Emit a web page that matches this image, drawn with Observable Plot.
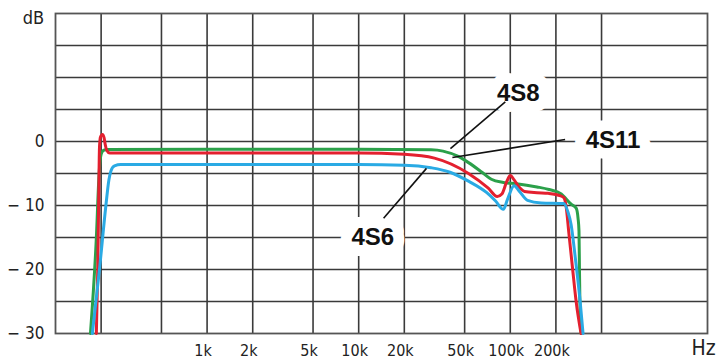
<!DOCTYPE html>
<html>
<head>
<meta charset="utf-8">
<script src="https://cdn.jsdelivr.net/npm/d3@7"></script>
<script src="https://cdn.jsdelivr.net/npm/@observablehq/plot@0.6"></script>
<style>
  html, body { margin: 0; padding: 0; background: #fff; }
  #chart svg { display: block; }
</style>
</head>
<body>
<div id="chart"></div>
<script>
// ---- data ----
const s8Freq = [170, 186, 193, 196, 200, 207, 220, 1000, 10000, 30000, 36000, 45000, 53000, 65000, 75000, 90000, 110000, 150000, 180000, 217000, 252000, 272000, 280000, 284000, 286000, 288000, 293000];
const s8Db   = [-30, -15, -6, -3.5, -2, -1.4, -1.25, -1.2, -1.2, -1.3, -1.5, -2.3, -3.3, -4.8, -5.9, -6.4, -6.6, -7.1, -7.5, -8.2, -9.8, -10.4, -12, -14, -20, -25, -30];

const s11Freq = [186, 190, 193, 195, 198, 204, 209, 213, 218, 228, 1000, 10000, 20000, 31600, 53000, 71600, 82000, 88000, 95000, 100000, 106000, 115000, 124000, 150000, 178000, 215000, 226000, 233000, 244000, 258000, 272000, 293000];
const s11Db   = [-30, -20, -8, -1, 0.7, 1.1, 0.6, -0.5, -1.4, -1.8, -1.8, -1.8, -2.0, -2.6, -5.0, -7.3, -8.6, -8.2, -6.2, -5.3, -6.0, -7.2, -7.8, -8.0, -8.1, -8.5, -8.8, -10, -14.5, -20, -25, -30];

const s6Freq = [175, 195, 215, 225, 232, 245, 270, 1000, 10000, 20000, 30000, 40000, 53000, 70000, 80000, 90000, 96000, 106000, 115000, 130000, 160000, 226000, 240000, 252000, 268000, 289000, 302000];
const s6Db   = [-30, -20, -10, -6, -4.6, -3.8, -3.6, -3.6, -3.6, -3.7, -4.1, -4.8, -6.2, -8.0, -9.3, -10.6, -9.0, -6.9, -7.8, -9.2, -9.6, -9.7, -11, -13, -18, -25, -30];

const seriesNames  = ["4S8", "4S11", "4S6"];
const seriesColors = ["#2ba04a", "#e3202f", "#2aaae4"];

const xGrid = [200, 500, 1000, 2000, 5000, 10000, 20000, 50000, 100000, 200000, 400000];
const yGrid = [-25, -20, -15, -10, -5, 0, 5, 10, 15];
const xTicks = [1000, 2000, 5000, 10000, 20000, 50000, 100000, 200000];
const xTickLabels = ["1k", "2k", "5k", "10k", "20k", "50k", "100k", "200k"];
const yTicks = [0, -10, -20, -30];
const yTickLabels = ["0", "\u2212 10", "\u2212 20", "\u2212 30"];

// annotation labels and leader lines (data coordinates)
const labelFreq = [113000, 476000, 12400];
const labelDb   = [7.5, 0.2, -14.9];
const leaderFromFreq = [92700, 230000, 14600];
const leaderFromDb   = [6.2, 0.3, -12.0];
const leaderToFreq   = [40300, 41500, 28000];
const leaderToDb     = [-1.1, -2.5, -4.2];

// ---- build tables ----
const curves = [];
[[s8Freq, s8Db], [s11Freq, s11Db], [s6Freq, s6Db]].forEach(([fs, ds], i) => {
  fs.forEach((f, j) => curves.push({series: seriesNames[i], f, db: ds[j]}));
});
const labels = seriesNames.map((name, i) => ({name, f: labelFreq[i], db: labelDb[i]}));
const leaders = seriesNames.map((name, i) => ({
  x1: leaderFromFreq[i], y1: leaderFromDb[i], x2: leaderToFreq[i], y2: leaderToDb[i]
}));
const xTickRows = xTicks.map((v, i) => ({v, label: xTickLabels[i]}));
const yTickRows = yTicks.map((v, i) => ({v, label: yTickLabels[i]}));

const narrow = "'Liberation Sans Narrow', 'Arial Narrow', 'DejaVu Sans Condensed', sans-serif";
const gridColor = "#3a3a3a";

const chart = Plot.plot({
  width: 717,
  height: 362,
  marginLeft: 55,
  marginRight: 10,
  marginTop: 13,
  marginBottom: 29,
  style: {fontFamily: narrow, background: "#fff", color: "#222"},
  x: {type: "log", domain: [100, 2e6], axis: null},
  y: {domain: [-30, 20], axis: null},
  color: {domain: seriesNames, range: seriesColors},
  marks: [
    Plot.ruleX(xGrid, {stroke: gridColor, strokeWidth: 1.6}),
    Plot.ruleY(yGrid, {stroke: gridColor, strokeWidth: 1.6}),
    Plot.frame({stroke: "#555", strokeWidth: 1.8}),
    // y tick labels
    Plot.text(yTickRows, {y: "v", text: "label", frameAnchor: "left", textAnchor: "end", dx: -11, fontSize: 17, fill: "#222"}),
    // x tick labels
    Plot.text(xTickRows, {x: "v", text: "label", frameAnchor: "bottom", textAnchor: "middle", lineAnchor: "middle", dx: -4, dy: 17, fontSize: 16, fill: "#222"}),
    Plot.line(curves, {x: "f", y: "db", z: "series", stroke: "series", strokeWidth: 3, curve: "monotone-x"}),
    // white boxes behind labels
    Plot.text(labels, {x: "f", y: "db", text: "name", fontSize: 24, fontWeight: "bold",
      fontFamily: "'Liberation Sans', Arial, sans-serif",
      fill: "white", stroke: "white", strokeWidth: 22, strokeLinejoin: "round"}),
    Plot.link(leaders, {x1: "x1", y1: "y1", x2: "x2", y2: "y2", stroke: "#111", strokeWidth: 1.6}),
    Plot.text(labels, {x: "f", y: "db", text: "name", fontSize: 24, fontWeight: "bold",
      fontFamily: "'Liberation Sans', Arial, sans-serif", fill: "#111"}),
    Plot.text(["dB"], {frameAnchor: "top-left", textAnchor: "middle", lineAnchor: "middle", dx: -22, dy: 5, fontSize: 18, fill: "#222"}),
    Plot.text(["Hz"], {frameAnchor: "bottom-right", textAnchor: "middle", lineAnchor: "middle", dx: -4, dy: 15, fontSize: 21, fill: "#222"})
  ]
});
document.getElementById("chart").appendChild(chart);
</script>
</body>
</html>
